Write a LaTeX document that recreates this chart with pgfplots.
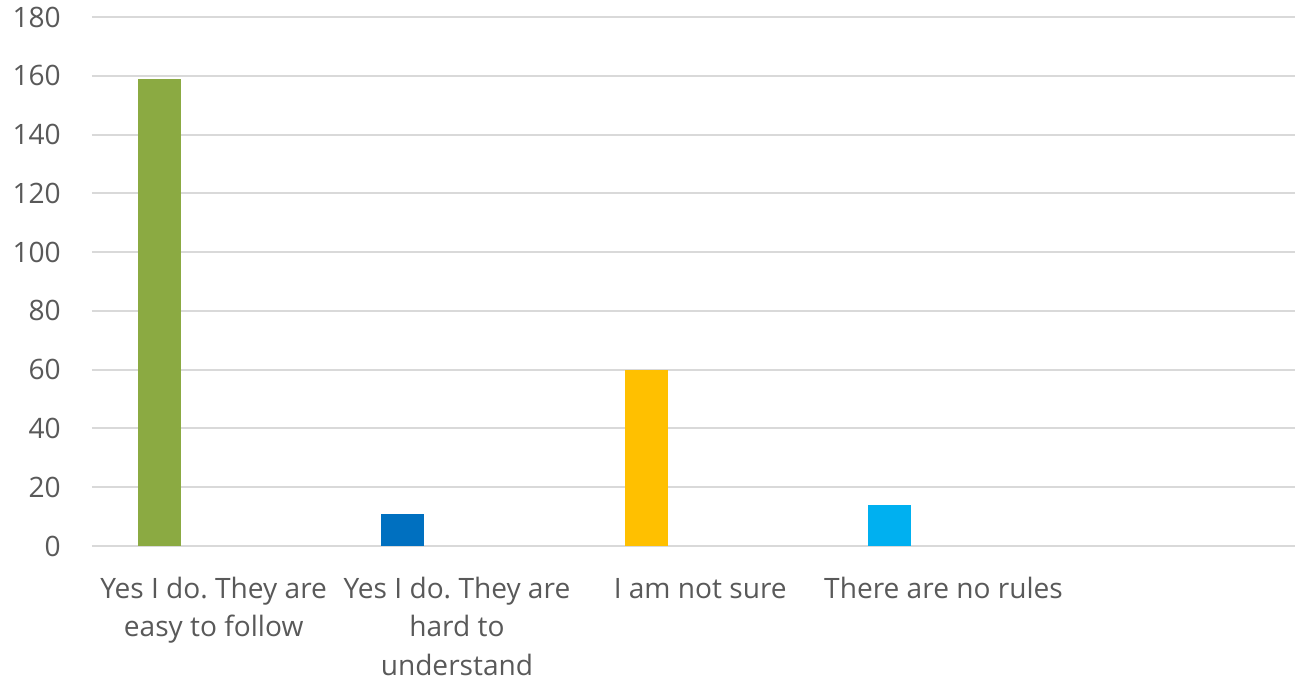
\documentclass[border=0pt]{standalone}
\usepackage{pgfplots}
\pgfplotsset{compat=1.18}
\usepackage{fontspec}
\setmainfont{Open Sans}
\frenchspacing
\newcommand\st{\rule{0pt}{21bp}}
\definecolor{txt}{HTML}{595959}
\definecolor{grd}{HTML}{D9D9D9}
\definecolor{cA}{HTML}{8BAA42}
\definecolor{cB}{HTML}{0070C0}
\definecolor{cC}{HTML}{FFC000}
\definecolor{cD}{HTML}{00B0F0}
\begin{document}
\begin{tikzpicture}[x=1bp,y=1bp]
\begin{axis}[
  name=ax,
  scale only axis,
  width=1216.5bp, height=529bp,
  xmin=-0.5, xmax=4.5,
  ymin=0, ymax=180,
  ytick={0,20,...,180},
  xtick={0,1,2,3},
  xticklabels={{\st Yes I do. They are\\easy to follow},{\st Yes I do. They are\\hard to\\understand},{\st I am not sure},{\st There are no rules}},
  xticklabel style={align=center, font=\fontsize{28.2}{38.5}\selectfont, text=txt, inner sep=0pt, anchor=north, yshift=-31bp},
  yticklabel style={font=\fontsize{28.2}{38.5}\selectfont, text=txt, inner sep=0pt, xshift=-31bp},
  /pgf/number format/assume math mode=true,
  axis line style={draw=none},
  major tick length=0pt,
  ymajorgrids,
  grid style={draw=grd, line width=2bp},
  ybar, bar width=0.177, bar shift=0pt,
  clip=false,
]
\addplot[fill=cA, draw=none] coordinates {(-0.222,159)};
\addplot[fill=cB, draw=none] coordinates {(0.778,11)};
\addplot[fill=cC, draw=none] coordinates {(1.778,60)};
\addplot[fill=cD, draw=none] coordinates {(2.778,14)};
\end{axis}
\pgfresetboundingbox
\path[use as bounding box] ([xshift=-92bp,yshift=-135bp]ax.south west) rectangle ([xshift=1203bp,yshift=17bp]ax.north west);
\end{tikzpicture}
\end{document}
